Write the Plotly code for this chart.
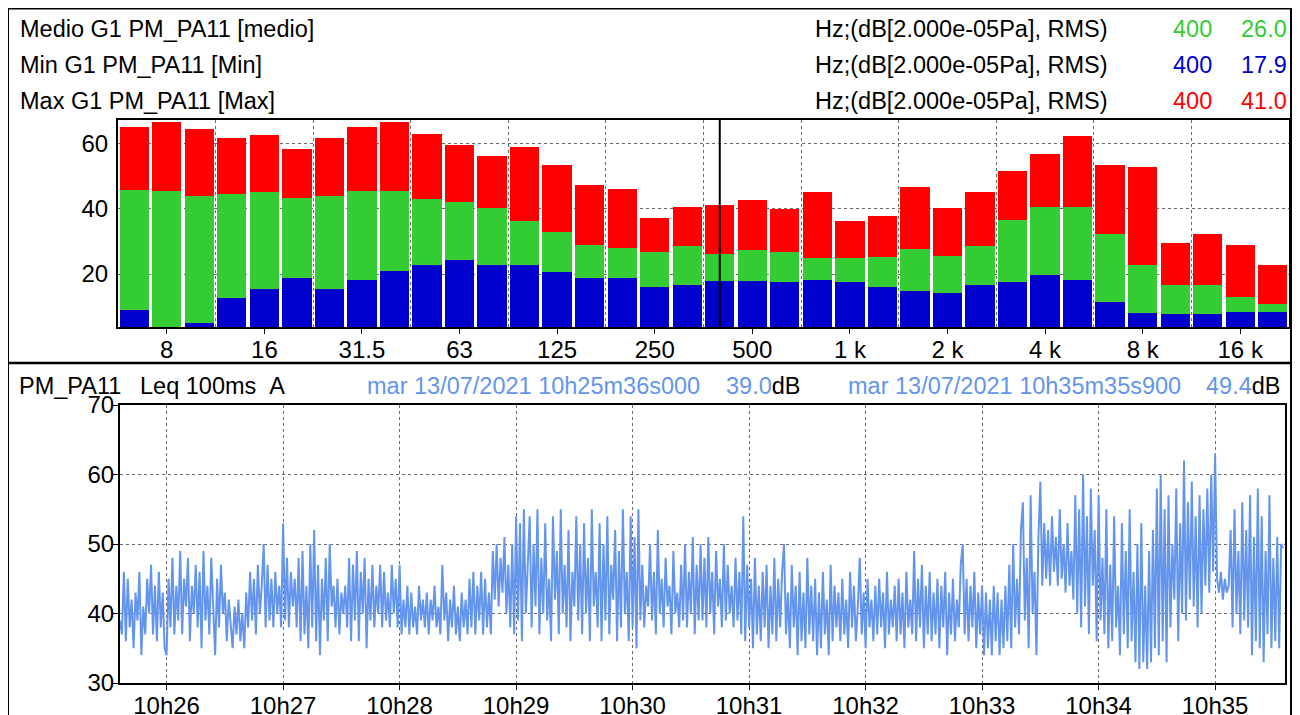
import pandas as pd
import plotly.graph_objects as go

# third-octave bands, dB re 20 uPa
bands = ["6.3", "8", "10", "12.5", "16", "20", "25", "31.5", "40", "50", "63", "80",
         "100", "125", "160", "200", "250", "315", "400", "500", "630", "800", "1 k", "1.25 k",
         "1.6 k", "2 k", "2.5 k", "3.15 k", "4 k", "5 k", "6.3 k", "8 k", "10 k", "12.5 k", "16 k", "20 k"]
tick_bands = ["8", "16", "31.5", "63", "125", "250", "500", "1 k", "2 k", "4 k", "8 k", "16 k"]

medio = [45.7, 45.4, 43.9, 44.5, 45.1, 43.3, 43.9, 45.4, 45.4, 43.0, 42.0, 40.2,
         36.2, 32.9, 28.9, 28.0, 26.7, 28.6, 26.0, 27.3, 26.7, 24.9, 24.9, 25.2,
         27.7, 25.5, 28.6, 36.5, 40.5, 40.5, 32.2, 22.8, 16.6, 16.6, 13.0, 10.8]
minimo = [9.0, 2.5, 5.1, 12.7, 15.4, 18.8, 15.4, 18.2, 20.9, 22.8, 24.3, 22.8,
          22.8, 20.6, 18.8, 18.8, 16.0, 16.6, 17.9, 17.9, 17.6, 18.2, 17.6, 16.0,
          14.8, 14.2, 16.6, 17.6, 19.7, 18.2, 11.4, 8.1, 7.8, 7.8, 8.4, 8.4]
massimo = [65.1, 66.6, 64.2, 61.6, 62.5, 58.3, 61.6, 65.1, 66.6, 62.8, 59.6, 56.1,
           58.9, 53.4, 47.2, 46.0, 37.1, 40.5, 41.0, 42.6, 39.9, 45.1, 36.2, 37.8,
           46.6, 40.2, 45.1, 51.5, 56.7, 62.2, 53.4, 52.8, 29.5, 32.2, 28.9, 22.8]
cursor_band = "400"

# Leq 100ms A, read at ~1 s steps from 10h25m36s
leq = [
    39, 37, 46, 36, 45, 38, 42, 35, 43, 39, 46, 34, 41, 37, 45, 40, 47, 37, 44, 36, 46, 38, 43, 35, 34, 45, 38, 48, 37, 44,
    39, 49, 37, 45, 41, 48, 36, 44, 40, 47, 38, 46, 35, 49, 39, 44, 37, 48, 41, 34, 45, 38, 47, 40, 43, 36, 42, 38, 35, 41,
    37, 42, 36, 40, 35, 43, 38, 46, 39, 45, 37, 47, 40, 44, 50, 38, 47, 39, 45, 38, 46, 40, 44, 38, 53, 39, 48, 38, 46, 41,
    45, 38, 48, 36, 49, 37, 44, 35, 50, 38, 52, 36, 47, 34, 45, 39, 48, 36, 50, 41, 44, 38, 45, 37, 43, 40, 44, 38, 48, 36,
    47, 39, 49, 36, 46, 40, 48, 35, 45, 39, 47, 38, 44, 40, 47, 38, 46, 39, 43, 38, 47, 40, 45, 38, 47, 37, 42, 38, 44, 37,
    43, 38, 41, 37, 44, 39, 42, 38, 43, 37, 42, 39, 44, 38, 41, 37, 47, 39, 43, 36, 42, 38, 44, 37, 41, 36, 43, 38, 42, 37,
    45, 38, 46, 37, 44, 39, 46, 37, 45, 38, 43, 37, 49, 42, 50, 41, 48, 43, 51, 40, 47, 38, 50, 37, 54, 39, 53, 36, 55, 40,
    46, 54, 38, 50, 41, 55, 37, 48, 40, 53, 39, 45, 36, 54, 42, 49, 37, 55, 40, 47, 38, 52, 36, 46, 41, 54, 39, 50, 37, 53,
    40, 48, 36, 55, 41, 46, 38, 53, 36, 50, 39, 54, 37, 47, 42, 52, 36, 49, 38, 55, 40, 46, 36, 54, 38, 51, 35, 55, 39, 47,
    38, 44, 41, 50, 39, 46, 37, 52, 40, 45, 38, 48, 41, 44, 37, 49, 40, 43, 38, 47, 39, 50, 38, 46, 40, 51, 37, 47, 39, 50,
    39, 48, 38, 51, 40, 46, 37, 49, 41, 45, 38, 50, 39, 47, 40, 44, 38, 48, 39, 46, 37, 54, 36, 47, 38, 45, 35, 48, 37, 44,
    36, 46, 38, 47, 35, 44, 37, 48, 36, 45, 38, 46, 50, 37, 43, 35, 47, 38, 44, 34, 46, 36, 43, 35, 48, 37, 44, 36, 45, 34,
    43, 35, 46, 37, 42, 34, 47, 36, 44, 38, 43, 36, 45, 37, 42, 35, 46, 38, 44, 36, 41, 48, 37, 43, 35, 45, 38, 42, 36, 44,
    37, 45, 38, 43, 35, 46, 37, 42, 38, 44, 36, 45, 37, 43, 35, 46, 38, 42, 37, 49, 36, 45, 38, 47, 35, 44, 37, 46, 36, 43,
    37, 45, 35, 44, 38, 46, 34, 43, 37, 45, 36, 42, 38, 47, 50, 37, 45, 36, 44, 38, 46, 35, 43, 37, 44, 34, 43, 35, 42, 34,
    44, 36, 43, 34, 42, 35, 44, 36, 47, 35, 50, 38, 45, 37, 52, 56, 39, 48, 35, 57, 40, 46, 34, 51, 59, 44, 53, 45, 52, 44,
    54, 46, 51, 44, 55, 45, 50, 43, 53, 44, 49, 42, 57, 40, 55, 38, 60, 41, 54, 37, 58, 44, 52, 36, 57, 39, 48, 37, 55, 35,
    47, 36, 54, 38, 44, 34, 53, 37, 49, 35, 55, 36, 46, 33, 50, 32, 53, 33, 44, 32, 49, 33, 52, 35, 58, 34, 60, 36, 55, 33,
    57, 38, 50, 42, 58, 36, 53, 40, 62, 39, 56, 42, 59, 41, 54, 38, 57, 40, 55, 44, 58, 43, 60, 46, 63, 45, 43, 46, 42, 45,
    43, 44, 52, 38, 55, 40, 49, 37, 56, 39, 52, 38, 57, 34, 51, 36, 58, 35, 54, 33, 49, 37, 57, 35, 48, 36, 51, 35, 50, 49.4,
]
t_start = "2021-07-13 10:25:36"
t_end = "2021-07-13 10:35:36"

# page is 1300x715 but the body has an 8px margin, so the figure starts at (8, 8)
OFF = 8
W, H = 1300 - OFF, 715 - OFF
FONT = "Liberation Sans, Arial, sans-serif"
GREEN, BLUE, RED, LINE_BLUE = "#33CC33", "#0000CC", "#FF0000", "#6495ED"


def fx(px):
    return (px - OFF) / W


def fy(py):
    return 1 - (py - OFF) / H


idx = list(range(len(bands)))
cur = bands.index(cursor_band)
times = pd.date_range(t_start, periods=len(leq), freq="1s")

fig = go.Figure()
for vals, col in [(massimo, RED), (medio, GREEN), (minimo, BLUE)]:
    fig.add_trace(go.Bar(x=idx, y=vals, width=0.9, marker=dict(color=col, line=dict(width=0)),
                         xaxis="x", yaxis="y", showlegend=False))
fig.add_trace(go.Scatter(x=times, y=leq, mode="lines", line=dict(color=LINE_BLUE, width=2),
                         xaxis="x2", yaxis="y2", showlegend=False))

grid = dict(showgrid=True, gridcolor="#6a6a6a", gridwidth=1, griddash="dot", zeroline=False)
frame = dict(showline=True, linecolor="black", mirror=True, automargin=False)
tfont = dict(family=FONT, size=24, color="black")

fig.update_layout(
    width=W, height=H, margin=dict(l=0, r=0, t=0, b=0, autoexpand=False),
    paper_bgcolor="white", plot_bgcolor="white", barmode="overlay", bargap=0,
    font=dict(family=FONT, size=23, color="black"),
    xaxis=dict(domain=[fx(118), fx(1289)], range=[-0.5, len(bands) - 0.5], anchor="y",
               tickmode="array", tickvals=[bands.index(b) for b in tick_bands], ticktext=tick_bands,
               ticks="outside", ticklen=5, tickcolor="black", tickfont=tfont, showgrid=False,
               ticklabelstandoff=-5,
               minor=dict(tickmode="array", tickvals=[bands.index(b) + 1.5 for b in tick_bands[:-1]],
                          showgrid=True, gridcolor="#6a6a6a", griddash="dot", ticks=""),
               linewidth=2, **frame),
    yaxis=dict(domain=[fy(327), fy(120)], range=[3.8, 67.1], anchor="x",
               tickvals=[20, 40, 60], ticks="", ticklabelstandoff=3, tickfont=tfont,
               linewidth=2, **grid, **frame),
    xaxis2=dict(domain=[fx(120), fx(1285)], range=[t_start, t_end], anchor="y2", type="date",
                dtick=60000, tickformat="%Hh%M", ticks="outside", ticklen=5, tickcolor="black",
                ticklabelstandoff=-5, tickfont=tfont, linewidth=2, **grid, **frame),
    yaxis2=dict(domain=[fy(683), fy(405)], range=[30, 70], anchor="x2", dtick=10,
                ticks="outside", ticklen=5, tickcolor="black", tickfont=tfont,
                ticklabelstandoff=-6, linewidth=2, **grid, **frame),
)

shapes = [
    dict(type="rect", xref="paper", yref="paper", x0=fx(8), x1=fx(1291), y0=-0.05, y1=fy(8.5),
         line=dict(color="black", width=2)),
    dict(type="line", xref="paper", yref="paper", x0=fx(8), x1=fx(1291), y0=fy(363), y1=fy(363),
         line=dict(color="black", width=2.5)),
    dict(type="line", xref="x", yref="y domain", x0=cur, x1=cur, y0=0, y1=1,
         line=dict(color="black", width=2)),
]
fig.update_layout(shapes=shapes)

legend_rows = [
    ("Medio G1 PM_PA11 [medio]", medio, GREEN, 29),
    ("Min G1 PM_PA11 [Min]", minimo, BLUE, 65),
    ("Max G1 PM_PA11 [Max]", massimo, RED, 101),
]
ann = []
for label, vals, col, yy in legend_rows:
    ann.append(dict(text=label, x=fx(18), y=fy(yy), xanchor="left"))
    ann.append(dict(text="Hz;(dB[2.000e-05Pa], RMS)", x=fx(813), y=fy(yy), xanchor="left"))
    ann.append(dict(text=cursor_band, x=fx(1214), y=fy(yy), xanchor="right", font=dict(color=col)))
    ann.append(dict(text=f"{vals[cur]:.1f}", x=fx(1289), y=fy(yy), xanchor="right", font=dict(color=col)))

hy = 386
ann += [
    dict(text="PM_PA11", x=fx(17), y=fy(hy), xanchor="left"),
    dict(text="Leq 100ms\u00a0\u00a0A", x=fx(138), y=fy(hy), xanchor="left"),
    dict(text="mar 13/07/2021 10h25m36s000", x=fx(365), y=fy(hy), xanchor="left",
         font=dict(color=LINE_BLUE)),
    dict(text=f"<span style='color:{LINE_BLUE}'>{leq[0]:.1f}</span>dB", x=fx(724), y=fy(hy), xanchor="left"),
    dict(text="mar 13/07/2021 10h35m35s900", x=fx(846), y=fy(hy), xanchor="left",
         font=dict(color=LINE_BLUE)),
    dict(text=f"<span style='color:{LINE_BLUE}'>{leq[-1]:.1f}</span>dB", x=fx(1204), y=fy(hy), xanchor="left"),
]
for a in ann:
    a.update(xref="paper", yref="paper", yanchor="middle", showarrow=False)
    a.setdefault("font", {})
    a["font"] = dict(family=FONT, size=23.5, **a["font"])
fig.update_layout(annotations=ann)

fig.write_html("out.html")
